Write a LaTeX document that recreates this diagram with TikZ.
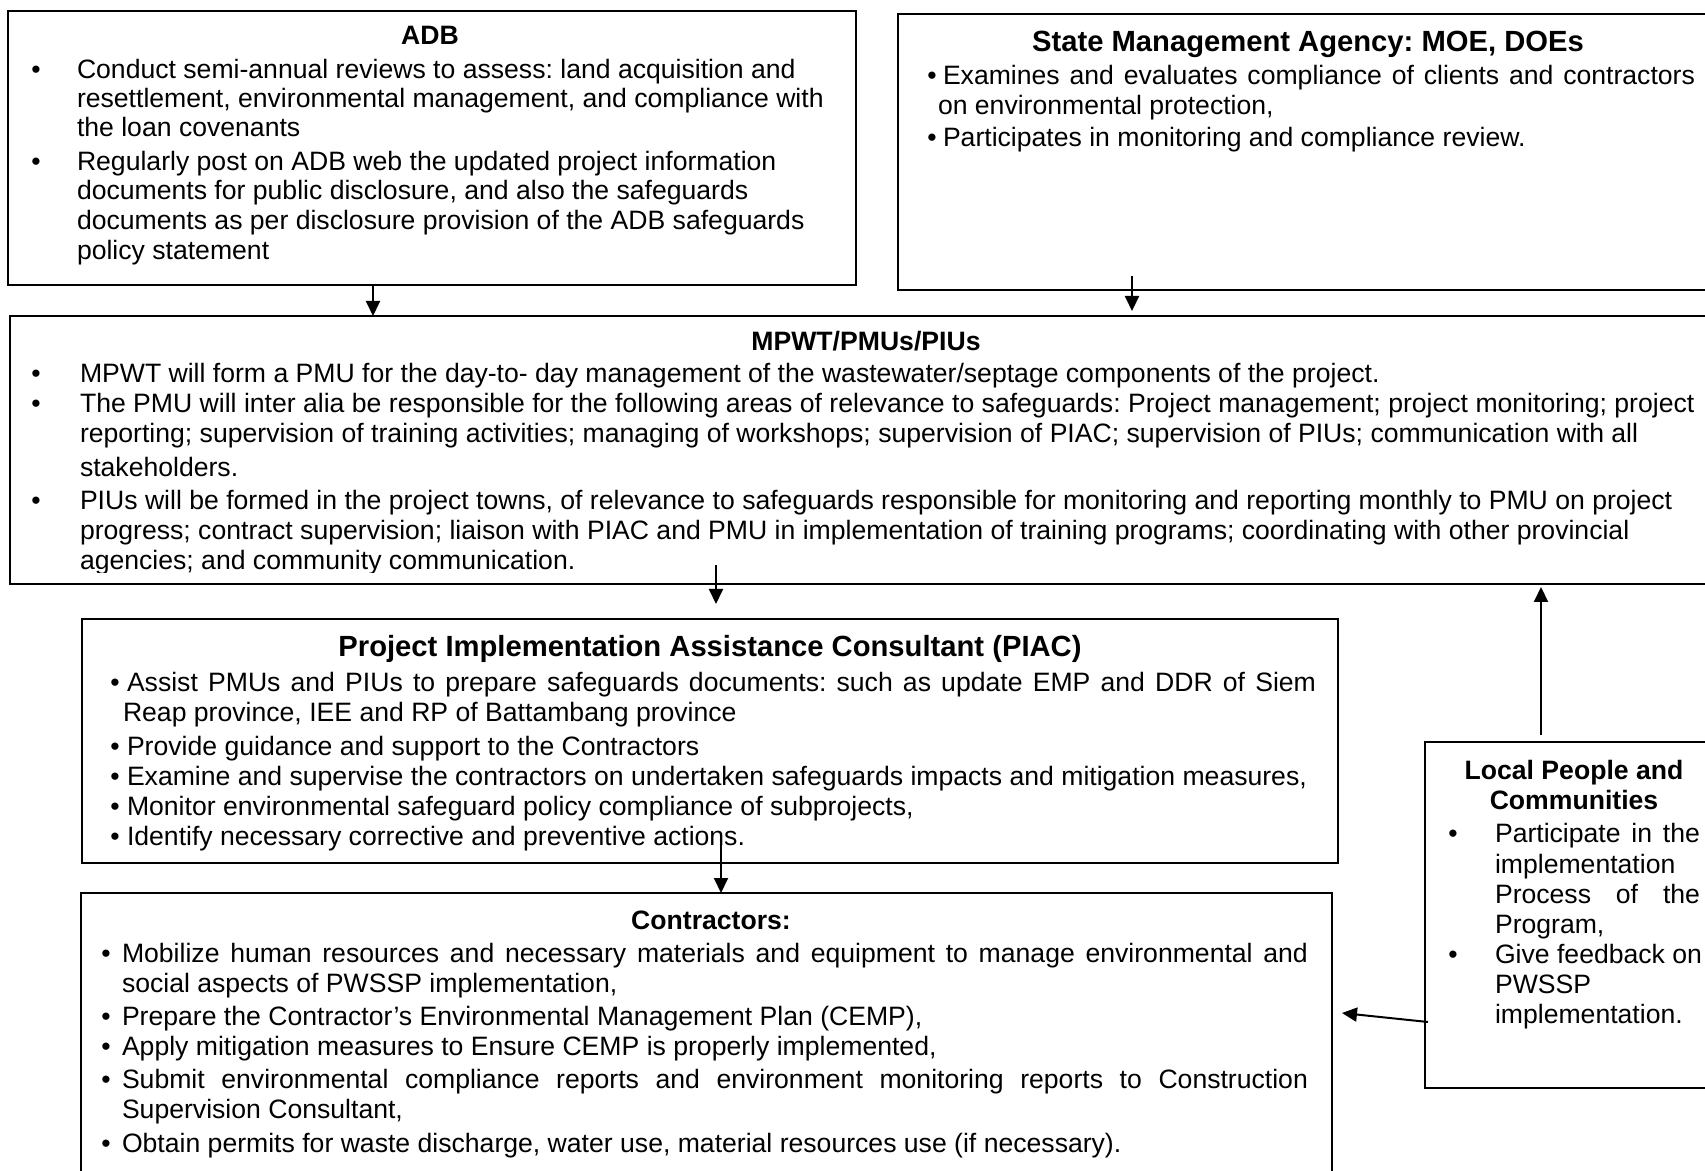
\documentclass[tikz,border=0pt]{standalone}
\usepackage{fontspec}
\setmainfont{Liberation Sans}
\usetikzlibrary{arrows.meta}
\frenchspacing
\newcommand\bodyf{\fontsize{13.3}{16}\selectfont}
\newcommand\titf{\fontsize{13.3}{16}\selectfont\bfseries}
\newcommand\titbig{\fontsize{14.6}{17}\selectfont\bfseries}
\tikzset{
 tx/.style={anchor=base west, inner sep=0pt, outer sep=0pt, font=\bodyf},
 bul/.style={anchor=base, inner sep=0pt, outer sep=0pt, font=\bodyf},
 ttl/.style={anchor=base, inner sep=0pt, outer sep=0pt, font=\titf},
 ttlbig/.style={anchor=base, inner sep=0pt, outer sep=0pt, font=\titbig},
 boxs/.style={draw=black, line width=1.3pt, inner sep=0pt, outer sep=0pt, rectangle},
 arr/.style={draw=black, line width=1pt, -{Triangle[length=7.5pt,width=7pt]}},
}
% box: name, x1, y1, x2, y2 (px)
\newcommand\mybox[5]{\node[boxs, minimum width={(#4-#2)*0.5}, minimum height={(#5-#3)*0.5}] (#1) at ({(#2+#4)/2},{(#3+#5)/2}) {};}
% text line: name, x, y, text
\newcommand\tl[4]{\node[tx] (#1) at (#2,#3) {\frenchspacing #4};}
% justified line: name, x, y, xend, text
\newcommand\jl[5]{\pgfmathsetlengthmacro\jw{(#4-#2)*0.5pt}\node[tx] (#1) at (#2,#3) {\frenchspacing\makebox[\jw][s]{#5}};}
% bullet: name, x, y
\newcommand\bl[3]{\node[bul] (#1) at (#2,#3) {•};}
\begin{document}
\begin{tikzpicture}[x=0.5pt,y=-0.5pt]
\useasboundingbox (0,0) rectangle (1705,1171);
\fill[white] (0,0) rectangle (1705,1171);
\clip (0,0) rectangle (1705,1171);

% ---------- boxes ----------
\mybox{adb}{8}{11}{856}{285}
\mybox{sma}{898}{14}{1760}{290}
\mybox{mpwt}{10}{316}{1760}{584}
\mybox{piac}{82}{619}{1338}{863}
\mybox{con}{81}{893}{1332}{1240}
\mybox{loc}{1425}{742}{1760}{1088}

% ---------- ADB ----------
\node[ttl] (adbt) at (430,45) {ADB};
\bl{adbb1}{36}{79}
\tl{adb1}{77}{79}{Conduct semi-annual reviews to assess: land acquisition and}
\tl{adb2}{77}{108}{resettlement, environmental management, and compliance with}
\tl{adb3}{77}{137}{the loan covenants}
\bl{adbb2}{36}{171}
\tl{adb4}{77}{171}{Regularly post on ADB web the updated project information}
\tl{adb5}{77}{200}{documents for public disclosure, and also the safeguards}
\tl{adb6}{77}{230}{documents as per disclosure provision of the ADB safeguards}
\tl{adb7}{77}{260}{policy statement}

% ---------- SMA ----------
\node[ttlbig] (smat) at (1308,52) {State Management Agency: MOE, DOEs};
\bl{smab1}{932}{85}
\jl{sma1}{943}{85}{1695}{Examines and evaluates compliance of clients and contractors}
\tl{sma2}{938}{115}{on environmental protection,}
\bl{smab2}{932}{147}
\tl{sma3}{943}{147}{Participates in monitoring and compliance review.}

% ---------- MPWT ----------
\node[ttl] (mpwtt) at (866,351) {MPWT/PMUs/PIUs};
\bl{mpb1}{36}{383}
\tl{mp1}{80}{383}{MPWT will form a PMU for the day-to- day management of the wastewater/septage components of the project.}
\bl{mpb2}{36}{413}
\tl{mp2}{80}{413}{The PMU will inter alia be responsible for the following areas of relevance to safeguards: Project management; project monitoring; project}
\tl{mp3}{80}{443}{reporting; supervision of training activities; managing of workshops; supervision of PIAC; supervision of PIUs; communication with all}
\tl{mp4}{80}{477}{stakeholders.}
\bl{mpb3}{36}{510}
\tl{mp5}{80}{510}{PIUs will be formed in the project towns, of relevance to safeguards responsible for monitoring and reporting monthly to PMU on project}
\tl{mp6}{80}{540}{progress; contract supervision; liaison with PIAC and PMU in implementation of training programs; coordinating with other provincial}
\begin{scope}
\clip (0,0) rectangle (1705,573);
\tl{mp7}{80}{570}{agencies; and community communication.}
\end{scope}

% ---------- PIAC ----------
\node[ttlbig] (piact) at (710,657) {Project Implementation Assistance Consultant (PIAC)};
\bl{pib1}{115}{692}
\jl{pi1}{127}{692}{1316}{Assist PMUs and PIUs to prepare safeguards documents: such as update EMP and DDR of Siem}
\tl{pi2}{123}{722}{Reap province, IEE and RP of Battambang province}
\bl{pib2}{115}{755}
\tl{pi3}{127}{755}{Provide guidance and support to the Contractors}
\bl{pib3}{115}{785}
\tl{pi4}{127}{785}{Examine and supervise the contractors on undertaken safeguards impacts and mitigation measures,}
\bl{pib4}{115}{815}
\tl{pi5}{127}{815}{Monitor environmental safeguard policy compliance of subprojects,}
\begin{scope}
\clip (0,0) rectangle (1705,854);
\bl{pib5}{115}{845}
\tl{pi6}{127}{845}{Identify necessary corrective and preventive actions.}
\end{scope}

% ---------- Contractors ----------
\node[ttl] (cont) at (711,929) {Contractors:};
\bl{cob1}{106}{962}
\jl{co1}{122}{962}{1308}{Mobilize human resources and necessary materials and equipment to manage environmental and}
\tl{co2}{122}{992}{social aspects of PWSSP implementation,}
\bl{cob2}{106}{1025}
\tl{co3}{122}{1025}{Prepare the Contractor’s Environmental Management Plan (CEMP),}
\bl{cob3}{106}{1055}
\tl{co4}{122}{1055}{Apply mitigation measures to Ensure CEMP is properly implemented,}
\bl{cob4}{106}{1088}
\jl{co5}{122}{1088}{1308}{Submit environmental compliance reports and environment monitoring reports to Construction}
\tl{co6}{122}{1118}{Supervision Consultant,}
\bl{cob5}{106}{1152}
\tl{co7}{122}{1152}{Obtain permits for waste discharge, water use, material resources use (if necessary).}

% ---------- Local People ----------
\node[ttl] (loct1) at (1574,780) {Local People and};
\node[ttl] (loct2) at (1574,810) {Communities};
\bl{lob1}{1453}{842}
\jl{lo1}{1495}{842}{1700}{Participate in the}
\tl{lo2}{1495}{873}{implementation}
\jl{lo3}{1495}{903}{1700}{Process of the}
\tl{lo4}{1495}{933}{Program,}
\bl{lob2}{1453}{963}
\tl{lo5}{1495}{963}{Give feedback on}
\tl{lo6}{1495}{993}{PWSSP}
\tl{lo7}{1495}{1023}{implementation.}

% ---------- connectors ----------
\coordinate (adbout) at (373,285);
\draw[arr] (adbout) -- (adbout |- mpwt.north);
\coordinate (smaout) at (1132,276);
\coordinate (smaend) at (1132,311);
\draw[arr] (smaout) -- (smaend);
\coordinate (mpout) at (716,565);
\coordinate (mpend) at (716,604);
\draw[arr] (mpout) -- (mpend);
\coordinate (piout) at (721,845);
\draw[arr] (piout) -- (piout |- con.north);
\coordinate (locup) at (1541,735);
\coordinate (locupend) at (1541,587);
\draw[arr] (locup) -- (locupend);
\coordinate (locleft) at (1428,1022);
\coordinate (conright) at (1342,1013);
\draw[arr] (locleft) -- (conright);
\end{tikzpicture}
\end{document}
